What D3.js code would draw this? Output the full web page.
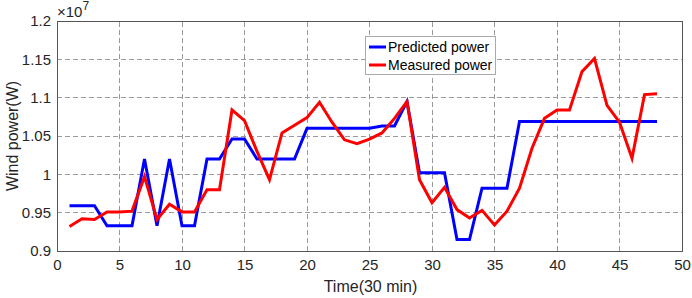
<!DOCTYPE html>
<html>
<head>
<meta charset="utf-8">
<script src="https://cdn.jsdelivr.net/npm/d3@7"></script>
<style>
  body { margin: 0; background: #fff; }
  text { font-family: Arial, 'Liberation Sans', sans-serif; }
</style>
</head>
<body>
<div id="chart"></div>
<script>
// DATA (values in units of 1e7 W)
var timeSteps = d3.range(1, 49)
var predicted = [0.959, 0.959, 0.959, 0.933, 0.933, 0.933, 1.02, 0.933, 1.02, 0.933,
  0.933, 1.02, 1.02, 1.046, 1.046, 1.02, 1.02, 1.02, 1.02, 1.06,
  1.06, 1.06, 1.06, 1.06, 1.06, 1.063, 1.063, 1.095, 1.002, 1.002,
  1.002, 0.915, 0.915, 0.982, 0.982, 0.982, 1.069, 1.069, 1.069, 1.069,
  1.069, 1.069, 1.069, 1.069, 1.069, 1.069, 1.069, 1.069]
var measured = [0.932, 0.942, 0.941, 0.951, 0.951, 0.952, 0.997, 0.941, 0.961, 0.951,
  0.951, 0.98, 0.98, 1.084, 1.07, 1.03, 0.993, 1.054, 1.064, 1.074,
  1.094, 1.068, 1.045, 1.04, 1.046, 1.054, 1.073, 1.095, 0.993, 0.963,
  0.983, 0.954, 0.943, 0.953, 0.934, 0.952, 0.982, 1.034, 1.073, 1.084,
  1.084, 1.134, 1.151, 1.09, 1.068, 1.021, 1.104, 1.105]
var xTicks = [0, 5, 10, 15, 20, 25, 30, 35, 40, 45, 50]
var yTicks = [0.9, 0.95, 1, 1.05, 1.1, 1.15, 1.2]
var seriesNames = ['Predicted power', 'Measured power']
var seriesColours = ['#0000ff', '#ff0000']

// GLOBAL
var width = 692
var height = 298
var margin = {top: 21, left: 57, bottom: 47, right: 10}

var svg = d3.select('#chart').append('svg')
  .attr('width', width)
  .attr('height', height)

var xMap = d3.scaleLinear()
  .domain([0, 50])
  .range([margin.left, width - margin.right])

var yMap = d3.scaleLinear()
  .domain([0.9, 1.2])
  .range([height - margin.bottom, margin.top])

// GRID
var gGrid = svg.append('g')
gGrid.selectAll('.vgrid')
  .data(xTicks.slice(1, -1))
  .enter().append('line')
  .attr('x1', d => xMap(d)).attr('x2', d => xMap(d))
  .attr('y1', yMap(0.9)).attr('y2', yMap(1.2))
gGrid.selectAll('.hgrid')
  .data(yTicks.slice(1, -1))
  .enter().append('line')
  .attr('x1', xMap(0)).attr('x2', xMap(50))
  .attr('y1', d => yMap(d)).attr('y2', d => yMap(d))
gGrid.selectAll('line')
  .style('stroke', '#9a9a9a')
  .style('stroke-width', 1)
  .style('stroke-dasharray', '5,3')
  .style('shape-rendering', 'crispEdges')

// AXES
var xAxis = d3.axisBottom(xMap).tickValues(xTicks).tickSize(0).tickPadding(8)
var gX = svg.append('g')
  .attr('transform', 'translate(' + [0, yMap(0.9)] + ')')
  .call(xAxis)
var yAxis = d3.axisLeft(yMap).tickValues(yTicks).tickSize(0).tickPadding(6)
  .tickFormat(d => d3.format('')(d))
var gY = svg.append('g')
  .attr('transform', 'translate(' + [xMap(0), 0] + ')')
  .call(yAxis)

gX.select('.domain').remove()
gY.select('.domain').remove()
svg.selectAll('.tick text')
  .style('font-size', '15px')
  .style('fill', '#262626')

// box
svg.append('rect')
  .attr('x', xMap(0)).attr('y', yMap(1.2))
  .attr('width', xMap(50) - xMap(0))
  .attr('height', yMap(0.9) - yMap(1.2))
  .style('fill', 'none')
  .style('stroke', '#555')
  .style('stroke-width', 1)
  .style('shape-rendering', 'crispEdges')

// LINES
var line = d3.line()
  .x((d, i) => xMap(timeSteps[i]))
  .y(d => yMap(d))

;[predicted, measured].forEach(function(series, k) {
  svg.append('path')
    .datum(series)
    .attr('d', line)
    .style('fill', 'none')
    .style('stroke', seriesColours[k])
    .style('stroke-width', 3)
    .style('stroke-linejoin', 'miter')
})

// LABELS
svg.append('text')
  .attr('x', (xMap(0) + xMap(50)) / 2 + 1)
  .attr('y', 292)
  .style('text-anchor', 'middle')
  .style('font-size', '16px')
  .style('fill', '#262626')
  .text('Time(30 min)')

svg.append('text')
  .attr('transform', 'translate(18,' + ((yMap(0.9) + yMap(1.2)) / 2) + ') rotate(-90)')
  .style('text-anchor', 'middle')
  .style('font-size', '16px')
  .style('fill', '#262626')
  .text('Wind power(W)')

var expo = svg.append('text')
  .attr('x', xMap(0))
  .attr('y', 17)
  .style('font-size', '15px')
  .style('fill', '#262626')
expo.append('tspan').text('\u00d710')
expo.append('tspan').attr('dy', -7).style('font-size', '12px').text('7')

// LEGEND
var gLeg = svg.append('g')
gLeg.append('rect')
  .attr('x', 365.5).attr('y', 36.5)
  .attr('width', 130).attr('height', 38)
  .style('fill', 'white')
  .style('stroke', '#aaa')
  .style('stroke-width', 1)
seriesNames.forEach(function(name, k) {
  var yy = 47 + k * 18
  gLeg.append('line')
    .attr('x1', 369).attr('x2', 386)
    .attr('y1', yy).attr('y2', yy)
    .style('stroke', seriesColours[k])
    .style('stroke-width', 3)
  gLeg.append('text')
    .attr('x', 388).attr('y', yy + 5)
    .style('font-size', '14px')
    .style('fill', '#000')
    .text(name)
})
</script>
</body>
</html>
